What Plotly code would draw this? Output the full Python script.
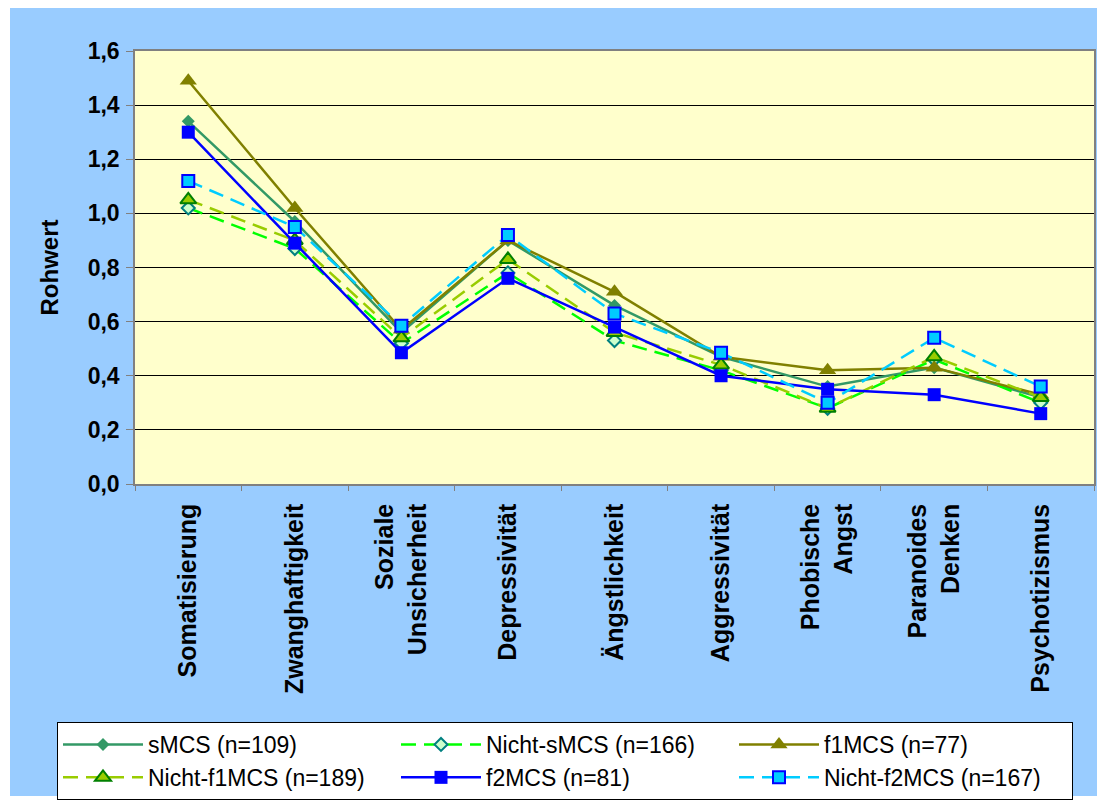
import plotly.graph_objects as go

categories = ["Somatisierung", "Zwanghaftigkeit", "Soziale<br>Unsicherheit", "Depressivität",
              "Ängstlichkeit", "Aggressivität", "Phobische<br>Angst", "Paranoides<br>Denken",
              "Psychotizismus"]

smcs = [1.34, 0.97, 0.56, 0.90, 0.66, 0.47, 0.36, 0.43, 0.32]
nicht_smcs = [1.02, 0.87, 0.52, 0.78, 0.53, 0.42, 0.28, 0.46, 0.30]
f1mcs = [1.49, 1.02, 0.57, 0.90, 0.71, 0.47, 0.42, 0.43, 0.33]
nicht_f1mcs = [1.05, 0.90, 0.54, 0.83, 0.56, 0.44, 0.28, 0.47, 0.32]
f2mcs = [1.30, 0.89, 0.485, 0.76, 0.58, 0.40, 0.35, 0.33, 0.26]
nicht_f2mcs = [1.12, 0.95, 0.585, 0.92, 0.63, 0.485, 0.30, 0.54, 0.36]

series_names = ["sMCS (n=109)", "Nicht-sMCS (n=166)", "f1MCS (n=77)",
                "Nicht-f1MCS (n=189)", "f2MCS (n=81)", "Nicht-f2MCS (n=167)"]

y_ticks = [0.0, 0.2, 0.4, 0.6, 0.8, 1.0, 1.2, 1.4, 1.6]

FONT = "Liberation Sans, Arial, sans-serif"
DASH = "15px,8px"

styles = [
    dict(line=dict(color="#339966", width=2.5),
         marker=dict(symbol="diamond", size=10, color="#339966")),
    dict(line=dict(color="#00FF00", width=2.5, dash=DASH),
         marker=dict(symbol="diamond", size=10, color="#CCFFCC", line=dict(color="#008080", width=2))),
    dict(line=dict(color="#808000", width=2.5),
         marker=dict(symbol="triangle-up", size=15, color="#808000")),
    dict(line=dict(color="#99CC00", width=2.5, dash=DASH),
         marker=dict(symbol="triangle-up", size=14, color="#99CC00", line=dict(color="#008000", width=2))),
    dict(line=dict(color="#0000FF", width=2.5),
         marker=dict(symbol="square", size=13, color="#0000FF")),
    dict(line=dict(color="#00CCFF", width=2.5, dash=DASH),
         marker=dict(symbol="square", size=12, color="#00CCFF", line=dict(color="#0000FF", width=2))),
]

data = [smcs, nicht_smcs, f1mcs, nicht_f1mcs, f2mcs, nicht_f2mcs]

fig = go.Figure()
for name, vals, st in zip(series_names, data, styles):
    fig.add_trace(go.Scatter(x=categories, y=vals, name=name, mode="lines+markers",
                             line=st["line"], marker=st["marker"]))

# page has an 8px body margin: figure coordinates = page coordinates - 8
OFF = 8
W, H = 1105 - OFF, 801 - OFF
plot_left, plot_right, plot_top, plot_bottom = 135, 1094, 51, 484  # page px
L = plot_left - OFF
T = plot_top - OFF
R = W - (plot_right - OFF)
B = H - (plot_bottom - OFF)
pw, ph = W - L - R, H - T - B


def px_x(p):
    return (p - OFF - L) / pw


def px_y(p):
    return (H - B - (p - OFF)) / ph


# outer light-blue chart area
fig.add_shape(type="rect", xref="paper", yref="paper",
              x0=px_x(10), x1=px_x(1100), y0=px_y(796), y1=px_y(8),
              fillcolor="#99CCFF", line=dict(width=0), layer="below")
# pale-yellow plot area
fig.add_shape(type="rect", xref="paper", yref="paper",
              x0=0, x1=1, y0=0, y1=1,
              fillcolor="#FFFFCC", line=dict(width=0), layer="below")

fig.update_layout(
    width=W, height=H,
    margin=dict(l=L, r=R, t=T, b=B, autoexpand=False),
    paper_bgcolor="white",
    plot_bgcolor="#FFFFCC",
    separators=",.",
    font=dict(family=FONT, color="black"),
    showlegend=True,
    legend=dict(
        orientation="h",
        x=px_x(57), y=px_y(722), xanchor="left", yanchor="top",
        bgcolor="white", bordercolor="black", borderwidth=1,
        font=dict(family=FONT, size=23, color="black"),
        entrywidth=243, entrywidthmode="pixels",
        itemwidth=80,
        traceorder="normal",
    ),
)

fig.update_xaxes(
    type="category",
    range=[-0.5, len(categories) - 0.5],
    tickangle=-90,
    tickfont=dict(family=FONT, size=25, color="black", weight="bold"),
    ticks="outside", tickson="boundaries", ticklen=5, tickcolor="#808080",
    ticklabelstandoff=8,
    showline=True, mirror=True, linecolor="#808080", linewidth=1.5,
    showgrid=False,
)

fig.update_yaxes(
    range=[0, 1.6],
    tickvals=y_ticks,
    tickformat=".1f",
    tickfont=dict(family=FONT, size=23, color="black", weight="bold"),
    ticks="outside", ticklen=7, tickcolor="#808080",
    ticklabelstandoff=2,
    showline=True, mirror=True, linecolor="#808080", linewidth=1.5,
    showgrid=True, gridcolor="black", gridwidth=1,
    zeroline=False,
    title=dict(text="Rohwert", font=dict(family=FONT, size=24, color="black", weight="bold"),
               standoff=22),
)

fig.write_html("out.html")
